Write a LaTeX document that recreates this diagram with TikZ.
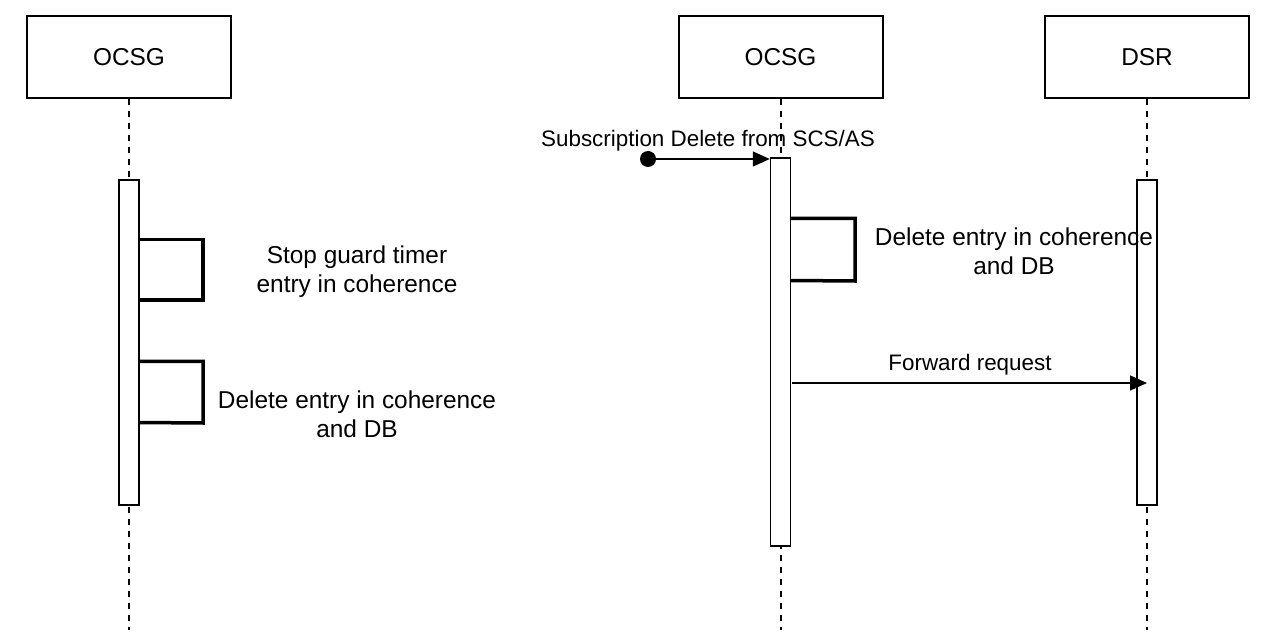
\documentclass[tikz,border=0pt]{standalone}
\usepackage{fontspec}
\setmainfont{Liberation Sans}
\usetikzlibrary{arrows.meta}
\begin{document}
\begin{tikzpicture}[x=1pt,y=-1pt,
  actor/.style={draw,line width=2pt,minimum width=204pt,minimum height=82pt,inner sep=0pt,font=\fontsize{24.4}{29}\selectfont},
  actbar/.style={draw,line width=1.5pt,fill=white,minimum width=20pt,inner sep=0pt},
  lifeline/.style={line width=2pt,dash pattern=on 6pt off 6pt},
  selfloop/.style={line width=3.5pt},
  msg/.style={line width=1.5pt,-{Triangle[length=17pt,width=15pt]}},
  note/.style={align=center,font=\fontsize{24.4}{29}\selectfont,inner sep=0pt},
  msglabel/.style={font=\fontsize{22.4}{26}\selectfont,inner sep=0pt}]
\useasboundingbox (0,0) rectangle (1278,644);
\fill[white] (0,0) rectangle (1278,644);
% actors
\node[actor] (A) at (129,57) {OCSG};
\node[actor] (B) at (780.5,57) {OCSG};
\node[actor] (C) at (1147,57) {DSR};
% lifeline ends
\coordinate (Aend) at (129,630);
\coordinate (Bend) at (780.5,630);
\coordinate (Cend) at (1147,630);
\draw[lifeline] (A.south) -- (Aend);
\draw[lifeline] (B.south) -- (Bend);
\draw[lifeline] (C.south) -- (Cend);
% activations
\node[actbar,minimum height=325pt] (Aa) at (129,342.5) {};
\node[actbar,minimum height=388pt] (Ba) at (780.5,352) {};
\node[actbar,minimum height=325pt] (Ca) at (1147,342.5) {};
% left self loops
\draw[selfloop] (139,239.5) -- (203,239.5) -- (203,300) -- (139,300);
\draw[selfloop] (139,361.5) -- (203,361.5) -- (203,423) -- (139,422.5);
\node[note] (n1) at (357,272) {Stop guard timer\\entry in coherence};
\node[note] (n2) at (357,414) {Delete entry in coherence\\and DB};
% middle self loop
\draw[selfloop] (790.5,218.5) -- (855,218.5) -- (855,281) -- (790.5,280.5);
\node[note] (n3) at (1014,251.5) {Delete entry in coherence\\and DB};
% found message
\coordinate (start) at (648,159);
\fill (start) circle (8pt);
\draw[msg] (start) -- (start -| Ba.west);
\node[msglabel] (l1) at (708,141) {Subscription Delete from SCS/AS};
% forward request
\coordinate (fwdA) at (792,383);
\coordinate (fwdB) at (1147,383);
\draw[msg] (fwdA) -- (fwdB);
\node[msglabel] (l2) at (970,365) {Forward request};
\end{tikzpicture}
\end{document}
